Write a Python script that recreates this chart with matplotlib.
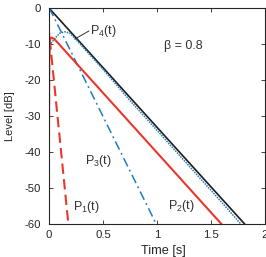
import matplotlib
matplotlib.use("Agg")
import matplotlib.pyplot as plt

plt.rcParams["font.family"] = ["Liberation Sans", "DejaVu Sans"]
plt.rcParams["mathtext.default"] = "regular"

# curvas (tempo em s, nivel em dB)
t_ref = [0, 1.815]
L_ref = [0, -60]

t_p1 = [0, 0.002, 0.18]
L_p1 = [-40, -7, -60]

t_p2 = [0, 0.002, 0.008, 0.02, 0.05, 1.60]
L_p2 = [-40, -15, -9, -8.2, -8.6, -60]

t_p3 = [0, 0.04, 0.995]
L_p3 = [0, -2.2, -60]

t_p4 = [0, 0.003, 0.009, 0.055, 0.10, 0.148, 0.194, 0.24, 0.5, 0.748, 1.0, 1.3, 1.6, 1.78]
L_p4 = [-40, -13, -10.3, -8.4, -7.0, -6.6, -7.0, -8.4, -17.0, -25.6, -33.9, -43.9, -53.9, -60]

xticks = [0, 0.5, 1, 1.5, 2]
xticklabels = ["0", "0.5", "1", "1.5", "2"]
yticks = [0, -10, -20, -30, -40, -50, -60]
yticklabels = ["0", "-10", "-20", "-30", "-40", "-50", "-60"]

vermelho = "#e8382c"
azul = "#1f7bc2"
cinza = "#333333"

fig = plt.figure(figsize=(2.66, 2.57), dpi=100)
ax = fig.add_axes([0.184, 0.127, 0.812, 0.842])

ax.plot(t_ref, L_ref, "-", color="#1c1c1c", lw=1.2)
ax.plot(t_p4, L_p4, color=azul, lw=1.1, linestyle=(0, (1, 0.7)))
ax.plot(t_p3, L_p3, color=azul, lw=1.1, linestyle=(0, (6, 2.5, 1.2, 2.5)))
ax.plot(t_p2, L_p2, "-", color=vermelho, lw=1.5)
ax.plot(t_p1, L_p1, color=vermelho, lw=1.5, linestyle=(0, (5, 2.5)))

ax.plot([0.24, 0.369], [-8.6, -6.4], color=cinza, lw=0.7)

ax.text(0.378, -6.4, "P$_4$(t)", fontsize=9, va="center", ha="left", color=cinza)
ax.text(0.332, -42.4, "P$_3$(t)", fontsize=9, va="center", ha="left", color=cinza)
ax.text(0.221, -55.2, "P$_1$(t)", fontsize=9, va="center", ha="left", color=cinza)
ax.text(1.098, -55.0, "P$_2$(t)", fontsize=9, va="center", ha="left", color=cinza)
ax.text(1.07, -10.5, "β = 0.8", fontsize=9, va="center", ha="left", color=cinza)

ax.set_xlim(0, 2)
ax.set_ylim(-60, 0)
ax.set_xticks(xticks)
ax.set_xticklabels(xticklabels)
ax.set_yticks(yticks)
ax.set_yticklabels(yticklabels)
ax.tick_params(direction="in", length=3, width=0.6, top=True, right=True,
               labelsize=8.2, colors="#262626")
ax.tick_params(axis="y", pad=6)
ax.tick_params(axis="x", pad=4)
for s in ax.spines.values():
    s.set_color("#262626")
    s.set_linewidth(0.8)

ax.set_xlabel("Time [s]", fontsize=9.2, color="#262626")
ax.set_ylabel("Level [dB]", fontsize=8, color="#262626")
ax.xaxis.set_label_coords(0.53, -0.094)
ax.yaxis.set_label_coords(-0.155, 0.5)

fig.savefig("out.png", dpi=100)
